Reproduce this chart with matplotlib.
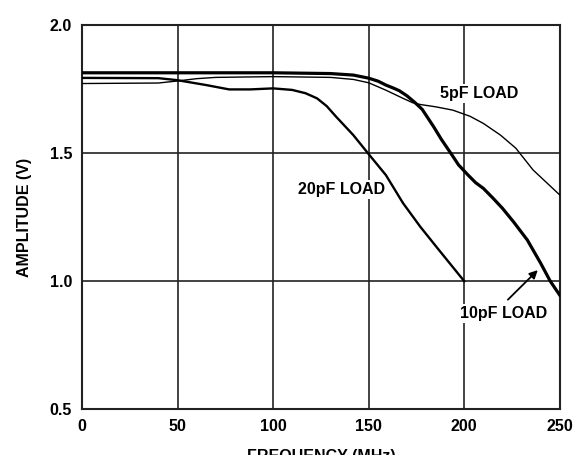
import matplotlib
matplotlib.use("Agg")
import matplotlib.pyplot as plt

plt.rcParams['font.family'] = ['Liberation Sans', 'DejaVu Sans']
plt.rcParams['font.weight'] = 'bold'

# amplitude vs frequency for three capacitive loads
freq_5 = [0, 40, 50, 60, 70, 100, 130, 142, 150, 159, 168, 173, 177, 185, 194, 203, 210, 219, 227, 236, 250]
amp_5 = [1.773, 1.775, 1.783, 1.792, 1.797, 1.800, 1.797, 1.789, 1.776, 1.747, 1.715, 1.698, 1.691,
         1.682, 1.669, 1.645, 1.617, 1.571, 1.520, 1.435, 1.337]

freq_10 = [0, 100, 130, 142, 150, 155, 159, 163, 166, 170, 174, 178, 184, 188, 193, 197, 202, 206,
           210, 215, 220, 226, 233, 240, 245, 250]
amp_10 = [1.815, 1.815, 1.812, 1.806, 1.794, 1.782, 1.767, 1.755, 1.745, 1.725, 1.700, 1.672, 1.604,
          1.555, 1.500, 1.455, 1.415, 1.385, 1.363, 1.325, 1.285, 1.230, 1.161, 1.070, 1.000, 0.945]

freq_20 = [0, 40, 50, 65, 77, 88, 100, 110, 117, 123, 128, 133, 142, 150, 159, 168, 177, 186, 200]
amp_20 = [1.795, 1.794, 1.786, 1.767, 1.750, 1.750, 1.754, 1.748, 1.735, 1.715, 1.685, 1.643, 1.571,
          1.497, 1.415, 1.305, 1.213, 1.129, 1.000]

xticks = [0, 50, 100, 150, 200, 250]
yticks = [0.5, 1.0, 1.5, 2.0]

fig = plt.figure(figsize=(5.73, 4.55), dpi=100)
ax = fig.add_axes([0.143, 0.101, 0.834, 0.843])

ax.plot(freq_5, amp_5, color='black', lw=1.0, zorder=3)
ax.plot(freq_20, amp_20, color='black', lw=1.7, zorder=3)
ax.plot(freq_10, amp_10, color='black', lw=2.3, zorder=3)

ax.set_xlim(0, 250)
ax.set_ylim(0.5, 2.0)
ax.set_xticks(xticks)
ax.set_yticks(yticks)
ax.set_yticklabels([f'{v:.1f}' for v in yticks])
ax.tick_params(length=0, pad=7, labelsize=11.5)
ax.grid(True, color='#222222', lw=1.2)
ax.set_axisbelow(True)
for s in ax.spines.values():
    s.set_linewidth(1.5)
    s.set_color('#222222')

ax.set_xlabel('FREQUENCY (MHz)', fontsize=11.5, fontweight='bold', labelpad=11)
ax.set_ylabel('AMPLITUDE (V)', fontsize=11.5, fontweight='bold', labelpad=13)

box = dict(facecolor='white', edgecolor='none', pad=1.5)
ax.text(208, 1.735, '5pF LOAD', ha='center', va='center', fontsize=11.5, fontweight='bold', bbox=box, zorder=2)
ax.text(135.8, 1.357, '20pF LOAD', ha='center', va='center', fontsize=11.5, fontweight='bold', bbox=box, zorder=2)
ax.text(220.4, 0.875, '10pF LOAD', ha='center', va='center', fontsize=11.5, fontweight='bold', bbox=box, zorder=2)
ax.annotate('', xy=(239.5, 1.051), xytext=(221.8, 0.92),
            arrowprops=dict(arrowstyle='-|>', color='black', lw=1.3, mutation_scale=12), zorder=3)

fig.savefig('out.png', dpi=100)
